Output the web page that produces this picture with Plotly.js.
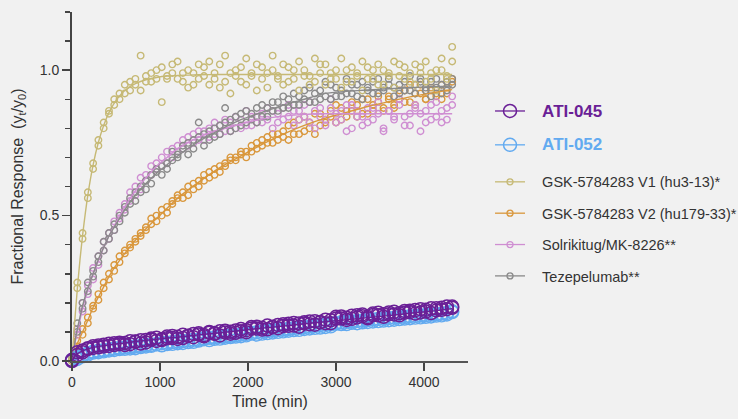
<!DOCTYPE html>
<html>
<head>
<meta charset="utf-8">
<script src="https://cdn.plot.ly/plotly-3.0.1.min.js"></script>
<style>html,body{margin:0;padding:0;background:#f1f1f1;}#chart{width:738px;height:419px;}</style>
</head>
<body>
<div id="chart"></div>
<script>
// ---- Data ----
const T = [
  0, 60, 120, 180, 240, 300, 360, 420, 480, 540,
  600, 660, 720, 780, 840, 900, 960, 1020, 1080, 1140,
  1200, 1260, 1320, 1380, 1440, 1500, 1560, 1620, 1680, 1740,
  1800, 1860, 1920, 1980, 2040, 2100, 2160, 2220, 2280, 2340,
  2400, 2460, 2520, 2580, 2640, 2700, 2760, 2820, 2880, 2940,
  3000, 3060, 3120, 3180, 3240, 3300, 3360, 3420, 3480, 3540,
  3600, 3660, 3720, 3780, 3840, 3900, 3960, 4020, 4080, 4140,
  4200, 4260, 4320];

const gskV1_a = [
  0.00, 0.25, 0.44, 0.56, 0.66, 0.76, 0.80, 0.86, 0.88, 0.92,
  0.95, 0.93, 0.97, 1.05, 0.96, 0.99, 0.97, 1.01, 0.98, 1.02,
  0.97, 0.99, 1.00, 0.95, 1.02, 0.98, 1.03, 0.97, 0.94, 1.05,
  0.99, 1.00, 0.96, 1.04, 0.98, 0.93, 1.01, 0.99, 1.05, 0.97,
  1.02, 0.96, 1.00, 1.03, 0.98, 0.95, 1.04, 0.99, 1.02, 0.97,
  1.00, 1.04, 0.96, 1.01, 0.98, 1.03, 0.97, 1.00, 1.02, 0.95,
  0.99, 1.03, 0.98, 1.01, 0.96, 1.02, 0.99, 1.03, 0.97, 1.00,
  1.04, 0.98, 1.08];
const gskV1_b = [
  0.01, 0.27, 0.42, 0.58, 0.68, 0.74, 0.82, 0.85, 0.90, 0.90,
  0.92, 0.96, 0.95, 0.93, 0.98, 0.96, 1.00, 0.89, 0.97, 0.99,
  1.03, 0.96, 0.94, 0.99, 0.97, 1.01, 0.95, 0.99, 1.02, 0.96,
  0.92, 0.98, 1.01, 0.95, 0.99, 1.02, 0.97, 0.94, 1.00, 0.98,
  0.95, 1.01, 0.97, 0.93, 1.00, 0.98, 0.96, 1.02, 0.95, 0.99,
  0.97, 0.94, 1.00, 0.96, 0.99, 0.93, 1.01, 0.97, 0.95, 1.00,
  0.98, 0.94, 1.02, 0.97, 0.99, 0.95, 1.01, 0.96, 0.99, 0.93,
  1.00, 0.97, 1.03];

const gskV2_a = [
  0.00, 0.05, 0.11, 0.13, 0.19, 0.23, 0.25, 0.30, 0.31, 0.36,
  0.37, 0.40, 0.41, 0.44, 0.46, 0.47, 0.50, 0.50, 0.53, 0.55,
  0.56, 0.58, 0.60, 0.59, 0.62, 0.62, 0.65, 0.64, 0.67, 0.68,
  0.69, 0.70, 0.71, 0.72, 0.74, 0.73, 0.76, 0.75, 0.78, 0.76,
  0.79, 0.76, 0.82, 0.78, 0.84, 0.80, 0.85, 0.81, 0.83, 0.86,
  0.88, 0.83, 0.86, 0.89, 0.84, 0.90, 0.85, 0.88, 0.91, 0.86,
  0.90, 0.87, 0.93, 0.89, 0.95, 0.88, 0.92, 0.90, 0.94, 0.91,
  0.95, 0.92, 0.97];
const gskV2_b = [
  0.01, 0.07, 0.09, 0.15, 0.18, 0.21, 0.27, 0.28, 0.33, 0.34,
  0.38, 0.39, 0.42, 0.43, 0.45, 0.49, 0.48, 0.52, 0.51, 0.54,
  0.57, 0.56, 0.57, 0.61, 0.60, 0.64, 0.63, 0.66, 0.65, 0.67,
  0.70, 0.69, 0.72, 0.70, 0.72, 0.75, 0.74, 0.77, 0.75, 0.78,
  0.77, 0.81, 0.78, 0.83, 0.79, 0.82, 0.78, 0.85, 0.82, 0.84,
  0.82, 0.87, 0.84, 0.86, 0.88, 0.85, 0.90, 0.86, 0.89, 0.87,
  0.91, 0.88, 0.90, 0.93, 0.89, 0.92, 0.95, 0.90, 0.93, 0.92,
  0.90, 0.94, 0.96];

const solri_a = [
  0.00, 0.09, 0.20, 0.23, 0.32, 0.33, 0.41, 0.42, 0.48, 0.51,
  0.52, 0.58, 0.57, 0.63, 0.62, 0.67, 0.66, 0.70, 0.68, 0.73,
  0.72, 0.76, 0.74, 0.78, 0.76, 0.79, 0.77, 0.82, 0.78, 0.83,
  0.79, 0.84, 0.80, 0.86, 0.81, 0.84, 0.82, 0.87, 0.80, 0.85,
  0.83, 0.88, 0.81, 0.86, 0.84, 0.89, 0.80, 0.87, 0.83, 0.90,
  0.82, 0.86, 0.79, 0.88, 0.84, 0.81, 0.87, 0.83, 0.89, 0.80,
  0.86, 0.84, 0.90, 0.81, 0.85, 0.88, 0.79, 0.86, 0.83, 0.89,
  0.82, 0.87, 0.91];
const solri_b = [
  0.01, 0.11, 0.17, 0.26, 0.28, 0.36, 0.38, 0.44, 0.45, 0.49,
  0.54, 0.55, 0.60, 0.59, 0.64, 0.64, 0.68, 0.67, 0.72, 0.70,
  0.74, 0.73, 0.77, 0.75, 0.79, 0.76, 0.80, 0.78, 0.81, 0.79,
  0.82, 0.80, 0.83, 0.81, 0.84, 0.82, 0.85, 0.83, 0.86, 0.82,
  0.87, 0.84, 0.86, 0.83, 0.88, 0.82, 0.86, 0.84, 0.81, 0.87,
  0.85, 0.83, 0.88, 0.80, 0.86, 0.84, 0.82, 0.87, 0.85, 0.79,
  0.86, 0.83, 0.88, 0.84, 0.81, 0.87, 0.85, 0.82, 0.88, 0.84,
  0.86, 0.83, 0.88];

const teze_a = [
  0.00, 0.13, 0.20, 0.27, 0.29, 0.36, 0.38, 0.44, 0.45, 0.50,
  0.53, 0.54, 0.58, 0.60, 0.59, 0.64, 0.65, 0.64, 0.68, 0.72,
  0.70, 0.73, 0.71, 0.76, 0.82, 0.74, 0.79, 0.77, 0.81, 0.87,
  0.79, 0.84, 0.81, 0.86, 0.83, 0.82, 0.88, 0.84, 0.89, 0.86,
  0.91, 0.87, 0.92, 0.88, 0.90, 0.94, 0.89, 0.93, 0.96, 0.90,
  0.94, 0.91, 0.97, 0.92, 0.95, 0.90, 0.93, 0.96, 0.92, 0.94,
  0.97, 0.91, 0.95, 0.93, 0.98, 0.92, 0.96, 0.94, 0.91, 0.97,
  0.95, 0.93, 0.97];
const teze_b = [
  0.01, 0.10, 0.18, 0.24, 0.31, 0.34, 0.41, 0.42, 0.47, 0.48,
  0.51, 0.56, 0.55, 0.58, 0.62, 0.61, 0.66, 0.67, 0.66, 0.69,
  0.71, 0.74, 0.75, 0.73, 0.77, 0.78, 0.76, 0.80, 0.78, 0.82,
  0.83, 0.80, 0.85, 0.82, 0.85, 0.87, 0.84, 0.87, 0.86, 0.89,
  0.87, 0.90, 0.88, 0.91, 0.93, 0.89, 0.92, 0.90, 0.91, 0.95,
  0.91, 0.93, 0.92, 0.95, 0.91, 0.96, 0.94, 0.92, 0.97, 0.93,
  0.95, 0.94, 0.92, 0.96, 0.93, 0.95, 0.97, 0.93, 0.96, 0.94,
  0.92, 0.96, 0.95];

const ati045_a = [
  0.000, 0.030, 0.036, 0.044, 0.051, 0.047, 0.056, 0.052, 0.061, 0.058,
  0.055, 0.068, 0.066, 0.060, 0.072, 0.077, 0.069, 0.075, 0.084, 0.079,
  0.076, 0.090, 0.087, 0.082, 0.095, 0.089, 0.100, 0.096, 0.088, 0.104,
  0.101, 0.097, 0.110, 0.106, 0.117, 0.112, 0.108, 0.122, 0.118, 0.113,
  0.126, 0.121, 0.131, 0.118, 0.129, 0.136, 0.125, 0.133, 0.142, 0.130,
  0.152, 0.146, 0.141, 0.156, 0.150, 0.160, 0.147, 0.158, 0.166, 0.152,
  0.161, 0.169, 0.157, 0.166, 0.173, 0.163, 0.178, 0.170, 0.165, 0.181,
  0.176, 0.187, 0.183];
const ati045_b = [
  0.004, 0.021, 0.030, 0.041, 0.045, 0.053, 0.050, 0.059, 0.055, 0.063,
  0.062, 0.058, 0.067, 0.071, 0.064, 0.073, 0.080, 0.072, 0.078, 0.086,
  0.083, 0.079, 0.086, 0.093, 0.091, 0.085, 0.097, 0.093, 0.102, 0.098,
  0.094, 0.105, 0.102, 0.099, 0.112, 0.118, 0.114, 0.109, 0.116, 0.124,
  0.120, 0.128, 0.122, 0.129, 0.133, 0.126, 0.137, 0.134, 0.130, 0.140,
  0.146, 0.153, 0.149, 0.145, 0.157, 0.154, 0.151, 0.163, 0.157, 0.161,
  0.167, 0.160, 0.164, 0.172, 0.168, 0.175, 0.167, 0.176, 0.181, 0.174,
  0.183, 0.178, 0.187];

const ati052_a = [
  0.000, 0.012, 0.016, 0.027, 0.029, 0.035, 0.033, 0.040, 0.038, 0.045,
  0.042, 0.049, 0.044, 0.052, 0.050, 0.055, 0.058, 0.054, 0.063, 0.059,
  0.067, 0.062, 0.071, 0.066, 0.073, 0.078, 0.072, 0.081, 0.077, 0.085,
  0.082, 0.089, 0.085, 0.093, 0.097, 0.091, 0.101, 0.096, 0.105, 0.100,
  0.108, 0.104, 0.113, 0.107, 0.116, 0.112, 0.121, 0.115, 0.125, 0.119,
  0.128, 0.133, 0.127, 0.136, 0.130, 0.139, 0.134, 0.143, 0.137, 0.146,
  0.140, 0.149, 0.144, 0.152, 0.147, 0.155, 0.150, 0.158, 0.153, 0.161,
  0.157, 0.165, 0.171];
const ati052_b = [
  0.003, 0.007, 0.020, 0.022, 0.032, 0.030, 0.037, 0.036, 0.043, 0.041,
  0.047, 0.043, 0.050, 0.048, 0.055, 0.052, 0.057, 0.061, 0.058, 0.065,
  0.061, 0.069, 0.065, 0.073, 0.070, 0.075, 0.080, 0.076, 0.084, 0.080,
  0.087, 0.084, 0.091, 0.088, 0.094, 0.099, 0.094, 0.103, 0.098, 0.107,
  0.102, 0.111, 0.106, 0.115, 0.110, 0.119, 0.114, 0.123, 0.117, 0.126,
  0.131, 0.127, 0.135, 0.131, 0.138, 0.133, 0.141, 0.136, 0.145, 0.139,
  0.148, 0.142, 0.151, 0.146, 0.154, 0.149, 0.157, 0.152, 0.160, 0.156,
  0.163, 0.160, 0.168];

// fitted curves
const FIT_T = [0, 30, 60, 90, 120, 180, 240, 300, 360, 420, 480, 600, 720, 840, 960,
  1080, 1200, 1440, 1680, 1920, 2160, 2400, 2640, 2880, 3120, 3360, 3600, 3840, 4080, 4320];
const gskV1_fit = [0, 0.132, 0.246, 0.346, 0.431, 0.570, 0.674, 0.752, 0.810, 0.854, 0.887, 0.930, 0.954, 0.967, 0.975,
  0.980, 0.982, 0.984, 0.985, 0.985, 0.985, 0.985, 0.985, 0.985, 0.985, 0.985, 0.985, 0.985, 0.985, 0.985];
const gskV2_fit = [0, 0.03, 0.06, 0.08, 0.10, 0.14, 0.185, 0.22, 0.255, 0.29, 0.32, 0.37, 0.415, 0.455, 0.49,
  0.525, 0.56, 0.615, 0.665, 0.705, 0.745, 0.78, 0.81, 0.835, 0.855, 0.875, 0.892, 0.908, 0.921, 0.933];
const solri_fit = [0, 0.055, 0.10, 0.14, 0.18, 0.245, 0.30, 0.345, 0.39, 0.43, 0.465, 0.53, 0.585, 0.63, 0.67,
  0.70, 0.73, 0.77, 0.795, 0.815, 0.832, 0.842, 0.848, 0.85, 0.85, 0.85, 0.85, 0.85, 0.85, 0.85];
const teze_fit = [0, 0.06, 0.11, 0.15, 0.19, 0.25, 0.30, 0.35, 0.39, 0.43, 0.46, 0.52, 0.57, 0.61, 0.645,
  0.675, 0.705, 0.755, 0.795, 0.83, 0.855, 0.88, 0.90, 0.92, 0.927, 0.932, 0.936, 0.94, 0.943, 0.945];
const ati045_fit = [0, 0.015, 0.025, 0.03, 0.035, 0.042, 0.047, 0.05, 0.053, 0.055, 0.058, 0.062, 0.067, 0.071, 0.075,
  0.079, 0.082, 0.09, 0.097, 0.105, 0.113, 0.12, 0.128, 0.135, 0.142, 0.149, 0.156, 0.164, 0.171, 0.18];
const ati052_fit = [0, 0.005, 0.01, 0.014, 0.018, 0.024, 0.03, 0.034, 0.037, 0.04, 0.043, 0.048, 0.053, 0.058, 0.062,
  0.067, 0.071, 0.079, 0.087, 0.094, 0.101, 0.108, 0.115, 0.122, 0.129, 0.136, 0.143, 0.15, 0.157, 0.164];

const GAP = '\u00a0\u00a0\u00a0';
const names = {
  ati045: GAP + "<b><span style='color:#6a1f96;font-size:17px'>ATI-045</span></b>",
  ati052: GAP + "<b><span style='color:#62aaf0;font-size:17px'>ATI-052</span></b>",
  gskV1: GAP + "GSK-5784283 V1 (hu3-13)*",
  gskV2: GAP + "GSK-5784283 V2 (hu179-33)*",
  solri: GAP + "Solrikitug/MK-8226**",
  teze: GAP + "Tezepelumab**"
};

// ---- Styles ----
const COL = {ati045:'#6a1f96', ati052:'#62aaf0', gskV1:'#c6b975', gskV2:'#d9973c', solri:'#cf8ed2', teze:'#8a8a8a'};

function pts(y, key, size, lw) {
  return {x: T, y: y, type: 'scatter', mode: 'markers', showlegend: false, cliponaxis: false,
    hoverinfo: 'skip',
    marker: {symbol: 'circle-open', size: size, color: COL[key], line: {width: lw, color: COL[key]}}};
}
function fit(y, key, w) {
  return {x: FIT_T, y: y, type: 'scatter', mode: 'lines', showlegend: false, cliponaxis: false,
    hoverinfo: 'skip', line: {color: COL[key], width: w, shape: 'spline', smoothing: 0.6}};
}
function leg(key, size, lw, which) {
  return {x: [null], y: [null], type: 'scatter', mode: 'lines+markers', name: names[key],
    legend: which, legendgroup: key, line: {color: COL[key], width: 1.3},
    marker: {symbol: 'circle-open', size: size, color: COL[key], line: {width: lw, color: COL[key]}}};
}

const data = [
  leg('ati045', 13, 1.5, 'legend'), leg('ati052', 13, 1.5, 'legend'),
  leg('gskV1', 6, 1.3, 'legend2'), leg('gskV2', 6, 1.3, 'legend2'),
  leg('solri', 6, 1.3, 'legend2'), leg('teze', 6, 1.3, 'legend2'),
  pts(gskV2_a, 'gskV2', 6.5, 1.4), pts(gskV2_b, 'gskV2', 6.5, 1.4),
  pts(solri_a, 'solri', 6.5, 1.4), pts(solri_b, 'solri', 6.5, 1.4),
  pts(teze_a, 'teze', 6.5, 1.4), pts(teze_b, 'teze', 6.5, 1.4),
  pts(gskV1_a, 'gskV1', 6.5, 1.4), pts(gskV1_b, 'gskV1', 6.5, 1.4),
  fit(gskV2_fit, 'gskV2', 1.4), fit(solri_fit, 'solri', 1.4), fit(teze_fit, 'teze', 1.4), fit(gskV1_fit, 'gskV1', 1.4),
  fit(ati052_fit, 'ati052', 1.4), pts(ati052_a, 'ati052', 13, 1.4), pts(ati052_b, 'ati052', 13, 1.4),
  fit(ati045_fit, 'ati045', 1.4), pts(ati045_a, 'ati045', 13, 1.5), pts(ati045_b, 'ati045', 13, 1.5)
];

const FONT = 'Liberation Sans, Arial, Helvetica, sans-serif';
const legBase = {xanchor: 'left', yanchor: 'top', bgcolor: 'rgba(0,0,0,0)',
  font: {family: FONT, size: 14.5, color: '#333'}, itemwidth: 30, traceorder: 'grouped'};
const layout = {
  width: 738, height: 419,
  margin: {l: 72, r: 270, t: 12, b: 58, pad: 0, autoexpand: false},
  paper_bgcolor: '#f1f1f1', plot_bgcolor: '#f1f1f1',
  font: {family: FONT, color: '#333', size: 14},
  showlegend: true,
  legend: Object.assign({}, legBase, {x: 1.0556, y: 0.762, tracegroupgap: 12}),
  legend2: Object.assign({}, legBase, {x: 1.0556, y: 0.559, tracegroupgap: 9.5}),
  xaxis: {range: [0, 4500], tickmode: 'linear', tick0: 0, dtick: 1000, ticks: 'outside', ticklen: 8,
    tickwidth: 1.5, tickcolor: '#444', showline: true, linecolor: '#555', linewidth: 1.5,
    showgrid: false, zeroline: false, tickfont: {size: 14, color: '#333'}, automargin: false,
    title: {text: 'Time (min)', font: {size: 16, color: '#333'}, standoff: 6}},
  yaxis: {range: [0, 1.2], tickmode: 'linear', tick0: 0, dtick: 0.5, tickformat: '.1f', ticks: 'outside', ticklen: 8,
    tickwidth: 1.5, tickcolor: '#444', showline: true, linecolor: '#444', linewidth: 2,
    showgrid: false, zeroline: false, tickfont: {size: 14, color: '#333'}, automargin: false,
    minor: {tick0: 0, dtick: 0.1, ticks: 'outside', ticklen: 5, tickwidth: 1.5, tickcolor: '#444', showgrid: false},
    title: {text: 'Fractional Response\u00a0\u00a0(y<sub>t</sub>/y<sub>0</sub>)', font: {size: 16, color: '#333'}, standoff: 12}}
};

Plotly.newPlot('chart', data, layout, {displayModeBar: false, staticPlot: true});
</script>
</body>
</html>
